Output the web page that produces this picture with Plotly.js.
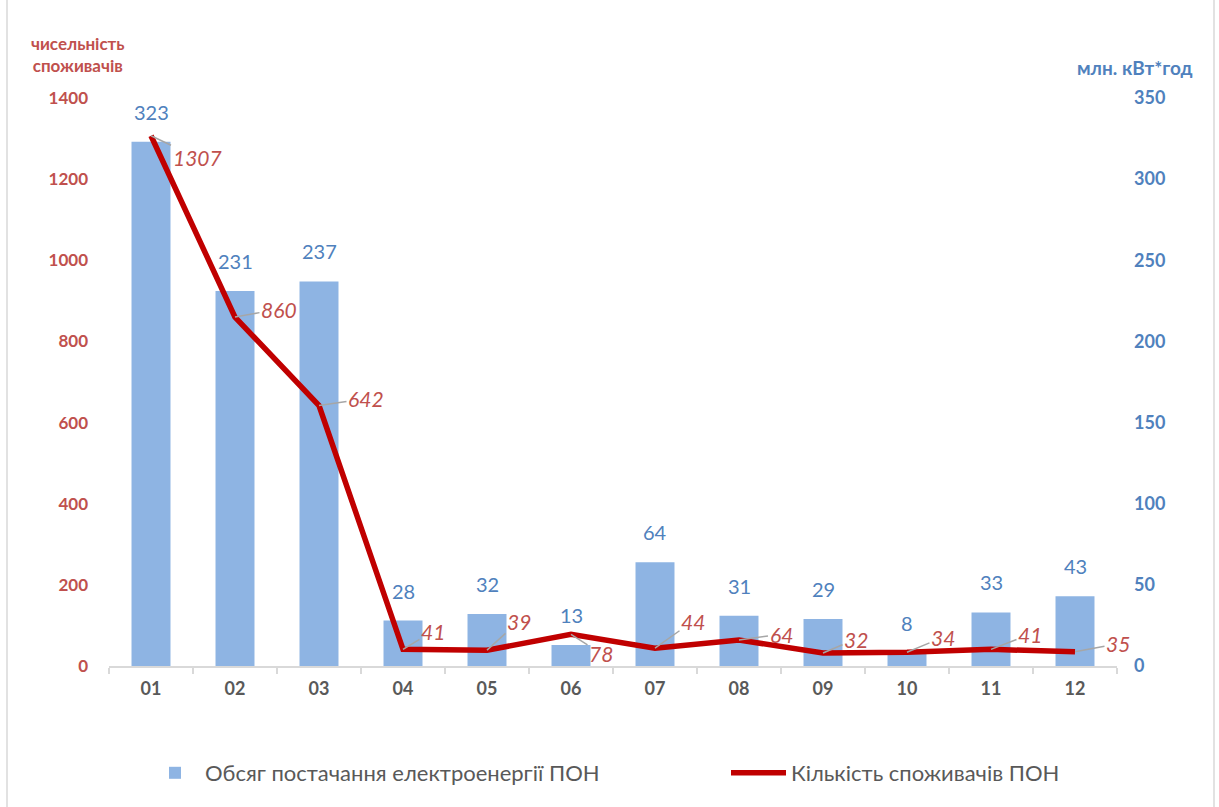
<!DOCTYPE html>
<html>
<head>
<meta charset="utf-8">
<script src="https://cdn.plot.ly/plotly-3.0.1.min.js"></script>
<style>
html,body{margin:0;padding:0;background:#fff;}
#chart{width:1219px;height:807px;}
</style>
</head>
<body>
<div id="chart"></div>
<script>
// ---- data ----
const months = ['01','02','03','04','05','06','07','08','09','10','11','12'];
const supplyVolume = [323, 231, 237, 28, 32, 13, 64, 31, 29, 8, 33, 43];          // млн. кВт*год
const consumerCount = [1307, 860, 642, 41, 39, 78, 44, 64, 32, 34, 41, 35];       // чисельність споживачів
const supplyName = 'Обсяг постачання електроенергії ПОН';
const consumerName = 'Кількість споживачів ПОН';

// label offsets (px) for the consumer-count labels
const lblDX = [46, 44, 47, 30, 32, 30, 38, 42, 33, 36, 39, 43];
const lblDY = [22, -8, -7, -18, -29, 19, -27, -6, -14, -15, -15, -8];

const FONT = 'Lato, "Open Sans", "Liberation Sans", sans-serif';
const RED = '#C0504D';
const BLUE = '#4F81BD';

const traces = [
  {
    type: 'bar', name: supplyName, x: months, y: supplyVolume,
    yaxis: 'y', marker: {color: '#8EB4E3', line: {width: 0}},
    legend: 'legend', hoverinfo: 'x+y'
  },
  {
    type: 'scatter', mode: 'lines', name: consumerName, x: months, y: consumerCount,
    yaxis: 'y2', line: {color: '#C00000', width: 5.5},
    legend: 'legend2', hoverinfo: 'x+y'
  }
];

const annotations = [];
months.forEach((m, i) => {
  annotations.push({
    x: i, y: supplyVolume[i], xref: 'x', yref: 'y',
    text: String(supplyVolume[i]), showarrow: false,
    yanchor: 'bottom', yshift: 16,
    font: {family: FONT, size: 20, color: BLUE}
  });
  annotations.push({
    x: i, y: consumerCount[i], xref: 'x', yref: 'y2',
    text: '<i>' + consumerCount[i] + '</i>', showarrow: true,
    ax: lblDX[i], ay: lblDY[i], arrowhead: 0, arrowwidth: 1.5,
    arrowcolor: '#A6A6A6', standoff: 0, startstandoff: 0,
    font: {family: FONT, size: 21, color: RED}
  });
});
annotations.push({
  xref: 'paper', yref: 'paper', x: (78 - 109) / 1008, y: (666 - 54) / 568,
  text: 'чисельність<br>споживачів', showarrow: false,
  xanchor: 'center', yanchor: 'middle', align: 'center',
  font: {family: FONT, size: 17, color: RED, weight: 'bold'}
});
annotations.push({
  xref: 'paper', yref: 'paper', x: (1135 - 109) / 1008, y: (666 - 68) / 568,
  text: 'млн. кВт*год', showarrow: false,
  xanchor: 'center', yanchor: 'middle',
  font: {family: FONT, size: 19, color: BLUE, weight: 'bold'}
});

const legendFont = {family: FONT, size: 22, color: '#595959'};
const layout = {
  width: 1219, height: 807,
  margin: {l: 109, r: 102, t: 98, b: 141},
  paper_bgcolor: '#fff', plot_bgcolor: '#fff',
  font: {family: FONT},
  bargap: 0.536,
  showlegend: true,
  legend: {
    orientation: 'h', x: (145 - 109) / 1008, xanchor: 'left',
    y: (666 - 773) / 568, yanchor: 'middle', itemwidth: 50,
    font: legendFont
  },
  legend2: {
    orientation: 'h', x: (726 - 109) / 1008, xanchor: 'left',
    y: (666 - 773) / 568, yanchor: 'middle', itemwidth: 55,
    font: legendFont
  },
  xaxis: {
    type: 'category', range: [-0.5, 11.5],
    showline: true, linecolor: '#D9D9D9', linewidth: 1.5,
    ticks: 'outside', tickson: 'boundaries', tickcolor: '#D9D9D9', ticklen: 6, tickwidth: 1.5,
    showgrid: false, zeroline: false,
    tickfont: {family: FONT, size: 18, color: '#595959', weight: 'bold'},
    ticklabelstandoff: 6
  },
  yaxis: {
    range: [0, 350], dtick: 50, side: 'right',
    showgrid: false, zeroline: false, showline: false, ticks: '',
    tickfont: {family: FONT, size: 18, color: BLUE, weight: 'bold'},
    ticklabelstandoff: 16
  },
  yaxis2: {
    range: [0, 1400], dtick: 200, side: 'left', overlaying: 'y',
    showgrid: false, zeroline: false, showline: false, ticks: '',
    tickfont: {family: FONT, size: 17, color: RED, weight: 'bold'},
    ticklabelstandoff: 20
  },
  annotations: annotations,
  shapes: [
    {type: 'line', xref: 'paper', yref: 'paper', x0: (7 - 109) / 1008, x1: (7 - 109) / 1008,
     y0: -0.26, y1: 1.18, line: {color: '#D9D9D9', width: 1.5}},
    {type: 'line', xref: 'paper', yref: 'paper', x0: (1214 - 109) / 1008, x1: (1214 - 109) / 1008,
     y0: -0.26, y1: 1.18, line: {color: '#D9D9D9', width: 1.5}}
  ]
};

Plotly.newPlot('chart', traces, layout, {displayModeBar: false});
</script>
</body>
</html>
